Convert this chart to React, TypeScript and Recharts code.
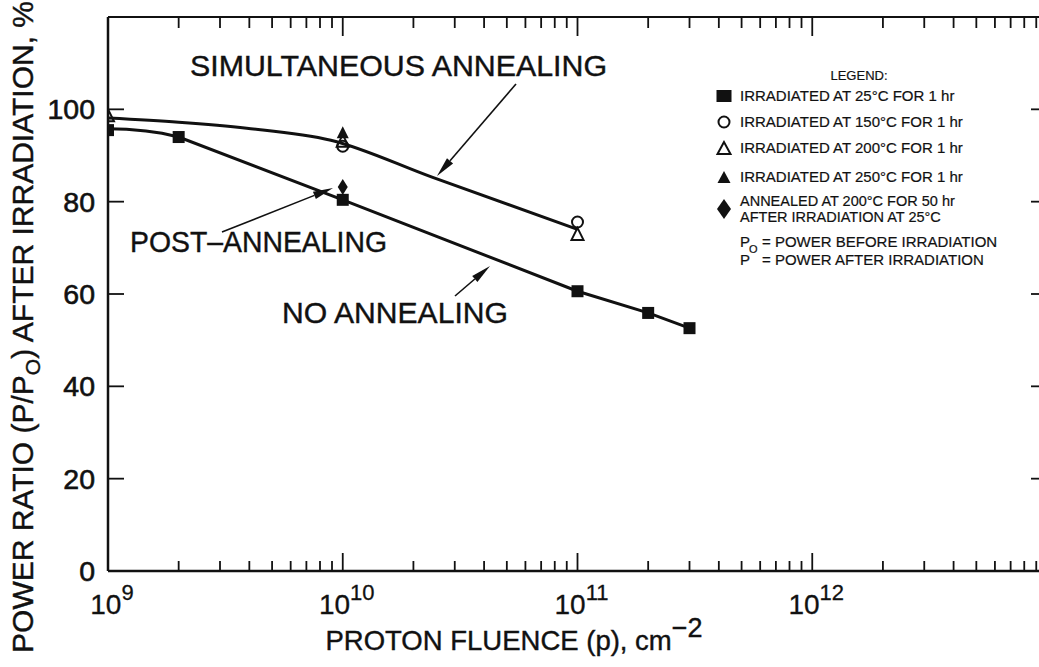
import React from "react";
import { ComposedChart, Line, Scatter, XAxis, YAxis, Customized } from "recharts";

const FONT = "'Liberation Sans', Arial, Helvetica, sans-serif";
const INK = "#111";

// axis ticks
const decadeExponents = [9, 10, 11, 12, 13];
const minorMultipliers = [2, 3, 4, 5, 6, 7, 8, 9];
const yTicks = [0, 20, 40, 60, 80, 100, 120];
const yTickLabels = ["0", "20", "40", "60", "80", "100"];

// faired curves
const noAnnealFluence = [1e9, 1.2e9, 1.45e9, 1.7e9, 2e9, 1e10, 1e11, 2e11, 3e11];
const noAnnealRatio = [95.8, 95.7, 95.3, 94.8, 94.0, 80.4, 60.6, 55.9, 52.6];
const simulFluence = [1e9, 2e9, 3.9e9, 8.9e9, 2.4e10, 1e11];
const simulRatio = [98.1, 97.2, 95.9, 93.3, 85.3, 74.0];

// measured points
const irr25Fluence = [1e9, 2e9, 1e10, 1e11, 2e11, 3e11];
const irr25Ratio = [95.5, 94.0, 80.4, 60.6, 55.9, 52.6];
const irr150Fluence = [1e10, 1e11];
const irr150Ratio = [92.0, 75.6];
const irr200Fluence = [1e9, 1e10, 1e11];
const irr200Ratio = [98.5, 93.0, 72.8];
const irr250Fluence = [1e10];
const irr250Ratio = [94.8];
const annealFluence = [1e10];
const annealRatio = [83.2];

const pts = (f: number[], r: number[]) => f.map((v, i) => ({ lx: Math.log10(v), y: r[i] }));

const xTicks: number[] = [];
decadeExponents.forEach((e) => {
  xTicks.push(e);
  if (e < 13) minorMultipliers.forEach((m) => xTicks.push(e + Math.log10(m)));
});

const isMajor = (v: number) => Math.abs(v - Math.round(v)) < 1e-6;

const BottomTick = (props: any) => {
  const { x, y, payload } = props;
  const v = payload.value;
  const major = isMajor(v);
  return (
    <g>
      <line x1={x} x2={x} y1={y} y2={y - (major ? 18 : 10)} stroke={INK} strokeWidth={1.8} />
      {major && v < 13 && (
        <text x={x + 4} y={y + 43} textAnchor="middle" fontSize={28} fill={INK} fontFamily={FONT} stroke={INK} strokeWidth={0.3}>
          10<tspan dy={-14} fontSize={22}>{Math.round(v)}</tspan>
        </text>
      )}
    </g>
  );
};

const TopTick = (props: any) => {
  const { x, y, payload } = props;
  const major = isMajor(payload.value);
  return <line x1={x} x2={x} y1={y} y2={y + (major ? 19 : 11)} stroke={INK} strokeWidth={1.8} />;
};

const LeftTick = (props: any) => {
  const { x, y, payload, index } = props;
  if (payload.value >= 120) return <g />;
  return (
    <g>
      {payload.value > 0 && <line x1={x} x2={x + 16} y1={y} y2={y} stroke={INK} strokeWidth={1.8} />}
      <text x={x - 13} y={y + 10} textAnchor="end" fontSize={28.5} fill={INK} fontFamily={FONT} stroke={INK} strokeWidth={0.6}>
        {yTickLabels[index]}
      </text>
    </g>
  );
};

const RightTick = (props: any) => {
  const { x, y, payload } = props;
  if (payload.value <= 0 || payload.value >= 120) return <g />;
  return <line x1={x} x2={x - 16} y1={y} y2={y} stroke={INK} strokeWidth={1.8} />;
};

const square = (p: any, s = 12, h = 12) => <rect x={p.cx - s / 2} y={p.cy - h / 2} width={s} height={h} fill={INK} />;
const openCircle = (p: any, r = 5.5) => <circle cx={p.cx} cy={p.cy} r={r} fill="none" stroke={INK} strokeWidth={2} />;
const openTri = (p: any, w = 6) => (
  <polygon points={`${p.cx},${p.cy - 7} ${p.cx - w},${p.cy + 5} ${p.cx + w},${p.cy + 5}`} fill="none" stroke={INK} strokeWidth={2} />
);
const filledTri = (p: any, w = 6) => (
  <polygon points={`${p.cx},${p.cy - 7} ${p.cx - w},${p.cy + 5} ${p.cx + w},${p.cy + 5}`} fill={INK} />
);
const diamond = (p: any, w = 5, h = 8) => (
  <polygon points={`${p.cx},${p.cy - h} ${p.cx - w},${p.cy} ${p.cx},${p.cy + h} ${p.cx + w},${p.cy}`} fill={INK} />
);

const Arrow = ({ x1, y1, x2, y2 }: { x1: number; y1: number; x2: number; y2: number }) => {
  const a = Math.atan2(y2 - y1, x2 - x1);
  const len = 20;
  const w = 4;
  const bx = x2 - len * Math.cos(a);
  const by = y2 - len * Math.sin(a);
  const px = -Math.sin(a) * w;
  const py = Math.cos(a) * w;
  return (
    <g>
      <line x1={x1} y1={y1} x2={bx} y2={by} stroke={INK} strokeWidth={1.6} />
      <polygon points={`${x2},${y2} ${bx + px},${by + py} ${bx - px},${by - py}`} fill={INK} />
    </g>
  );
};

const legendRows = [
  "IRRADIATED AT 25°C FOR 1 hr",
  "IRRADIATED AT 150°C FOR 1 hr",
  "IRRADIATED AT 200°C FOR 1 hr",
  "IRRADIATED AT 250°C FOR 1 hr",
];

const Overlay = () => {
  const big = { fontFamily: FONT, fontSize: 30, fill: INK, stroke: INK, strokeWidth: 0.4, lengthAdjust: "spacingAndGlyphs" as const };
  const small = { fontFamily: FONT, fontSize: 15, fill: INK, stroke: INK, strokeWidth: 0.2 };
  const rowY = [96, 122, 148, 177];
  const sx = 724;
  return (
    <g>
      <text x={190} y={76} textLength={417} {...big}>SIMULTANEOUS ANNEALING</text>
      <text x={130} y={252} textLength={257} {...big}>POST–ANNEALING</text>
      <text x={282} y={323} textLength={226} {...big}>NO ANNEALING</text>
      <Arrow x1={516} y1={84} x2={437} y2={176} />
      <Arrow x1={222} y1={232} x2={333} y2={188} />
      <Arrow x1={455} y1={296} x2={490} y2={266} />

      <text x={859} y={80} textAnchor="middle" fontFamily={FONT} fontSize={13} fill={INK} stroke={INK} strokeWidth={0.2}>LEGEND:</text>
      {square({ cx: sx, cy: rowY[0] }, 15, 12)}
      {openCircle({ cx: sx, cy: rowY[1] }, 5.5)}
      {openTri({ cx: sx, cy: rowY[2] + 1 }, 6.5)}
      {filledTri({ cx: sx, cy: rowY[3] + 1 }, 6.5)}
      {legendRows.map((t, i) => (
        <text key={t} x={740} y={rowY[i] + 5} {...small}>{t}</text>
      ))}
      {diamond({ cx: sx, cy: 209 }, 7, 10)}
      <text x={740} y={206} {...small} fontSize={14.5}>ANNEALED AT 200°C FOR 50 hr</text>
      <text x={740} y={222} {...small} fontSize={14.5}>AFTER IRRADIATION AT 25°C</text>
      <text x={740} y={247} {...small}>P</text>
      <text x={749} y={253} {...small} fontSize={11}>O</text>
      <text x={762} y={247} {...small}>= POWER BEFORE IRRADIATION</text>
      <text x={740} y={265} {...small}>P</text>
      <text x={762} y={265} {...small}>= POWER AFTER IRRADIATION</text>

      <text transform="translate(33,327) rotate(-90)" textAnchor="middle" {...big} lengthAdjust={undefined}>
        POWER RATIO (P/P<tspan dy={7} fontSize={21}>O</tspan><tspan dy={-7}>) AFTER IRRADIATION, %</tspan>
      </text>
      <text x={514} y={650} textAnchor="middle" {...big} lengthAdjust={undefined} fontSize={27.5}>
        PROTON FLUENCE (p), cm<tspan dy={-13} fontSize={27}>−2</tspan>
      </text>
    </g>
  );
};

export default function App() {
  return (
    <div style={{ width: 1039, height: 667, overflow: "hidden", background: "#fff" }}>
      <style>{"body{margin:0;overflow:hidden;background:#fff}"}</style>
      <ComposedChart width={1060} height={667} margin={{ top: 0, right: 0, bottom: 0, left: 0 }}>
        <XAxis
          xAxisId="b"
          type="number"
          dataKey="lx"
          domain={[9, 13]}
          ticks={xTicks}
          interval={0}
          height={96}
          tickSize={0}
          tickMargin={0}
          tickLine={false}
          axisLine={{ stroke: INK, strokeWidth: 2.5 }}
          tick={<BottomTick />}
          allowDataOverflow
        />
        <XAxis
          xAxisId="t"
          orientation="top"
          type="number"
          dataKey="lx"
          domain={[9, 13]}
          ticks={xTicks}
          interval={0}
          height={17}
          tickSize={0}
          tickMargin={0}
          tickLine={false}
          axisLine={{ stroke: INK, strokeWidth: 2 }}
          tick={<TopTick />}
          allowDataOverflow
        />
        <YAxis
          yAxisId="l"
          type="number"
          domain={[0, 120]}
          ticks={yTicks}
          interval={0}
          width={108}
          tickSize={0}
          tickMargin={0}
          tickLine={false}
          axisLine={{ stroke: INK, strokeWidth: 2.5 }}
          tick={<LeftTick />}
          allowDataOverflow
        />
        <YAxis
          yAxisId="r"
          orientation="right"
          type="number"
          domain={[0, 120]}
          ticks={yTicks}
          interval={0}
          width={13}
          tickSize={0}
          tickMargin={0}
          tickLine={false}
          axisLine={{ stroke: INK, strokeWidth: 2 }}
          tick={<RightTick />}
          allowDataOverflow
        />
        <Line xAxisId="b" yAxisId="l" data={pts(simulFluence, simulRatio)} dataKey="y" type="monotone" stroke={INK} strokeWidth={3} dot={false} isAnimationActive={false} />
        <Line xAxisId="b" yAxisId="l" data={pts(noAnnealFluence, noAnnealRatio)} dataKey="y" type="linear" stroke={INK} strokeWidth={3} dot={false} isAnimationActive={false} />
        <Scatter xAxisId="b" yAxisId="l" data={pts(irr25Fluence, irr25Ratio)} dataKey="y" shape={(p: any) => square(p)} isAnimationActive={false} />
        <Scatter xAxisId="b" yAxisId="l" data={pts(irr150Fluence, irr150Ratio)} dataKey="y" shape={(p: any) => openCircle(p)} isAnimationActive={false} />
        <Scatter xAxisId="b" yAxisId="l" data={pts(irr200Fluence, irr200Ratio)} dataKey="y" shape={(p: any) => openTri(p)} isAnimationActive={false} />
        <Scatter xAxisId="b" yAxisId="l" data={pts(irr250Fluence, irr250Ratio)} dataKey="y" shape={(p: any) => filledTri(p)} isAnimationActive={false} />
        <Scatter xAxisId="b" yAxisId="l" data={pts(annealFluence, annealRatio)} dataKey="y" shape={(p: any) => diamond(p)} isAnimationActive={false} />
        <Customized component={Overlay} />
      </ComposedChart>
    </div>
  );
}
